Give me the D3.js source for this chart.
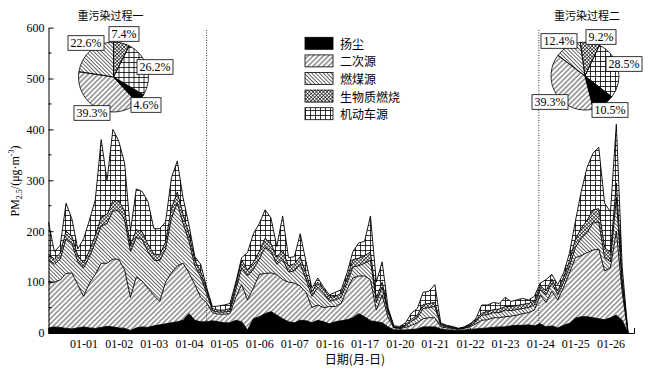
<!DOCTYPE html>
<html><head><meta charset="utf-8">
<script src="https://cdn.jsdelivr.net/npm/d3@7/dist/d3.min.js"></script>
<style>body{margin:0;background:#fff}svg{display:block}</style>
</head><body>
<svg id="c" width="658" height="372"></svg>
<script>
// ---- data ----
const dayLabels = ["01-01","01-02","01-03","01-04","01-05","01-06","01-07","01-16","01-17","01-20","01-21","01-22","01-23","01-24","01-25","01-26"];
const stepDays = 1/6; // one sample every 4 h
const dust = [10,12,11,9,8,10,12,10,9,11,13,12,10,9,5,10,12,11,14,16,18,20,22,25,38,25,22,22,
  24,22,20,20,25,22,6,28,32,38,42,35,28,22,20,25,24,20,25,22,18,22,24,26,30,38,32,24,22,20,12,
  6,6,6,7,8,12,12,12,8,6,6,5,6,7,8,9,10,11,12,12,14,15,15,16,14,
  18,12,14,10,15,19,29,32,32,30,28,26,30,35,25,0];
const secondary = [91,88,93,108,110,85,60,88,106,126,124,133,135,115,65,100,90,77,60,46,82,98,110,112,80,70,48,38,
  16,15,17,18,45,73,59,60,83,79,76,80,77,78,78,67,56,30,30,28,34,30,34,59,78,74,80,81,23,55,18,
  4,3,5,8,12,16,18,18,4,4,3,2,3,5,10,16,16,19,18,20,19,20,23,24,31,
  57,48,68,55,75,99,119,120,126,133,137,96,98,165,55,0];
const coal = [42,35,41,68,58,45,56,52,63,73,78,95,95,98,90,78,81,72,69,80,65,107,123,78,62,37,40,18,
  4,4,4,5,15,33,47,37,30,51,42,20,40,20,24,43,25,22,35,28,10,13,12,13,22,20,25,38,15,15,10,
  1,1,3,8,10,20,20,22,3,2,1,1,1,2,4,10,10,10,10,13,11,11,10,10,10,
  10,15,16,10,10,12,20,34,39,53,53,26,12,65,15,0];
const biomass = [12,10,12,15,14,12,10,12,14,18,18,20,20,18,12,15,16,14,12,12,14,20,22,18,15,12,10,8,
  4,4,4,5,10,15,12,14,15,18,16,14,18,12,14,15,12,9,10,9,8,7,8,10,14,15,15,16,8,10,5,
  1,1,2,4,5,8,8,8,3,2,2,1,1,2,3,4,6,6,7,7,8,8,8,8,8,
  8,8,8,8,10,12,16,20,24,26,26,20,18,30,12,0];
const vehicle = [63,15,15,55,34,13,47,60,70,152,67,140,117,94,28,80,79,84,50,51,39,60,61,32,17,6,15,4,
  4,8,10,10,5,5,34,56,55,56,50,21,67,16,14,45,23,7,8,3,5,8,7,10,16,30,28,71,32,40,5,
  2,2,4,12,13,24,24,35,2,1,1,0,1,2,3,16,13,14,11,18,10,11,12,7,9,
  5,22,9,12,8,15,35,72,104,111,121,87,80,115,23,0];
const yTicks = [0,100,200,300,400,500,600];
const yMinorTicks = [50,150,250,350,450,550];
const seriesKeys = ["dust","secondary","coal","biomass","vehicle"];
const seriesNames = ["扬尘","二次源","燃煤源","生物质燃烧","机动车源"];
const eventDays = [4.5, 13.96];
const eventTitles = ["重污染过程一","重污染过程二"];
const pieKeys = ["biomass","vehicle","dust","secondary","coal"];
const pie1Values = [7.4, 26.2, 4.6, 39.3, 22.6];
const pie2Values = [9.2, 28.5, 10.5, 39.3, 12.4];

// ---- setup ----
const svg = d3.select("#c");
const serif = "'Liberation Serif','Times New Roman',serif";
const cjk = "'Noto Sans CJK SC','Noto Sans',sans-serif";
const x = d3.scaleLinear().domain([0, 16.67]).range([48.5, 634]);
const y = d3.scaleLinear().domain([0, 600]).range([333, 27.6]);

const defs = svg.append("defs");
function hatch(id, size, angle, sw) {
  const p = defs.append("pattern").attr("id", id).attr("patternUnits", "userSpaceOnUse")
    .attr("width", size).attr("height", size).attr("patternTransform", `rotate(${angle})`);
  p.append("line").attr("x1", size/2).attr("y1", 0).attr("x2", size/2).attr("y2", size)
    .attr("stroke", "#000").attr("stroke-width", sw);
}
hatch("p-secondary", 3.6, 45, 0.7);
hatch("p-coal", 2.7, -45, 0.6);
{
  const s = 2.5;
  const p = defs.append("pattern").attr("id", "p-biomass").attr("patternUnits", "userSpaceOnUse")
    .attr("width", s).attr("height", s).attr("patternTransform", "rotate(45)");
  p.append("path").attr("d", `M${s/2},0V${s}M0,${s/2}H${s}`).attr("stroke", "#000").attr("stroke-width", 0.6);
}
{
  const s = 5;
  const p = defs.append("pattern").attr("id", "p-vehicle").attr("patternUnits", "userSpaceOnUse")
    .attr("width", s).attr("height", s);
  p.append("path").attr("d", `M0,0.5H${s}M0.5,0V${s}`).attr("stroke", "#000").attr("stroke-width", 0.8);
}
const fillOf = k => k === "dust" ? "#000" : `url(#p-${k})`;

// ---- stacked areas ----
const rows = dust.map((_, i) => ({
  t: i * stepDays, dust: dust[i], secondary: secondary[i], coal: coal[i], biomass: biomass[i], vehicle: vehicle[i]
}));
const stack = d3.stack().keys(seriesKeys)(rows);
const area = d3.area().x(d => x(d.data.t)).y0(d => y(d[0])).y1(d => y(d[1]));
const topLine = d3.line().x(d => x(d.data.t)).y(d => y(d[1]));
const g = svg.append("g");
g.selectAll("path.area").data(stack).join("path").attr("class", "area")
  .attr("d", area).attr("fill", d => fillOf(d.key)).attr("stroke", "none");
g.selectAll("path.top").data(stack).join("path").attr("class", "top")
  .attr("d", topLine).attr("fill", "none").attr("stroke", "#000").attr("stroke-width", 0.9);

// ---- event lines ----
svg.selectAll("line.ev").data(eventDays).join("line").attr("class", "ev")
  .attr("x1", d => x(d)).attr("x2", d => x(d)).attr("y1", 30).attr("y2", 333)
  .attr("stroke", "#000").attr("stroke-width", 0.8).attr("stroke-dasharray", "1,1.5");
svg.selectAll("text.evt").data(eventTitles).join("text").attr("class", "evt")
  .attr("x", (d, i) => i === 0 ? 110.5 : 587).attr("y", 15)
  .attr("text-anchor", "middle").attr("dominant-baseline", "central")
  .attr("font-family", cjk).attr("font-size", 11).text(d => d);

// ---- axes ----
const xAxis = d3.axisBottom(x).tickValues(d3.range(1, 17)).tickFormat((d, i) => dayLabels[i])
  .tickSizeInner(-5).tickSizeOuter(-5).tickPadding(6);
const gx = svg.append("g").attr("transform", "translate(0,333)").call(xAxis);
gx.selectAll("text").attr("font-family", serif).attr("font-size", 12).attr("fill", "#000");
const yAxis = d3.axisLeft(y).tickValues(yTicks).tickSizeInner(-5).tickSizeOuter(0).tickPadding(4);
const gy = svg.append("g").attr("transform", "translate(48.5,0)").call(yAxis);
gy.selectAll("text").attr("font-family", serif).attr("font-size", 12).attr("fill", "#000");
gy.selectAll(".minor").data(yMinorTicks).join("line").attr("class", "minor")
  .attr("x1", 0).attr("x2", 3).attr("y1", d => y(d)).attr("y2", d => y(d)).attr("stroke", "#000");
svg.selectAll(".domain").attr("stroke", "#000");

svg.append("text").attr("x", 355).attr("y", 358).attr("text-anchor", "middle")
  .attr("dominant-baseline", "central").attr("font-family", cjk).attr("font-size", 12).text("日期(月-日)");

const yl = svg.append("text").attr("transform", "translate(19,181) rotate(-90)")
  .attr("text-anchor", "middle").attr("font-family", serif).attr("font-size", 12);
yl.append("tspan").text("PM");
yl.append("tspan").attr("font-size", 8).attr("dy", 3).text("2.5");
yl.append("tspan").attr("dy", -3).text("/(μg·m");
yl.append("tspan").attr("font-size", 8).attr("dy", -5).text("-3");
yl.append("tspan").attr("dy", 5).text(")");

// ---- legend ----
const lg = svg.append("g");
const legCy = [43.3, 60.9, 78.5, 96.1, 113.7];
seriesKeys.forEach((k, i) => {
  lg.append("rect").attr("x", 305).attr("y", legCy[i] - 6).attr("width", 28).attr("height", 12)
    .attr("fill", fillOf(k)).attr("stroke", "#000").attr("stroke-width", 0.8);
  lg.append("text").attr("x", 340).attr("y", legCy[i]).attr("dominant-baseline", "central")
    .attr("font-family", cjk).attr("font-size", 12).text(seriesNames[i]);
});

// ---- pies ----
function drawPie(values, cx, cy, r, startDeg, labelPos) {
  const a0 = startDeg * Math.PI / 180;
  const arcs = d3.pie().sort(null).startAngle(a0).endAngle(a0 + 2 * Math.PI)(values);
  const arc = d3.arc().innerRadius(0).outerRadius(r);
  const pg = svg.append("g").attr("transform", `translate(${cx},${cy})`);
  pg.selectAll("path").data(arcs).join("path").attr("d", arc)
    .attr("fill", (d, i) => fillOf(pieKeys[i])).attr("stroke", "#000").attr("stroke-width", 0.8);
  values.forEach((v, i) => {
    const [lx, ly] = labelPos[i];
    const lgp = svg.append("g");
    const t = lgp.append("text").attr("x", lx).attr("y", ly).attr("text-anchor", "middle")
      .attr("dominant-baseline", "central").attr("font-family", serif).attr("font-size", 12)
      .text(v.toFixed(1) + "%");
    const b = t.node().getBBox();
    lgp.insert("rect", "text").attr("x", b.x - 2.5).attr("y", ly - 7.3).attr("width", b.width + 5)
      .attr("height", 14.6).attr("fill", "#fff").attr("stroke", "#000").attr("stroke-width", 0.8);
  });
}
drawPie(pie1Values, 113.5, 77, 35, 0, [[124,34],[155,67],[146,105],[92,113],[86,43]]);
drawPie(pie2Values, 585, 76, 34, -8, [[601,37],[624,64],[610,110],[550,102],[559,41]]);
</script>
</body></html>
